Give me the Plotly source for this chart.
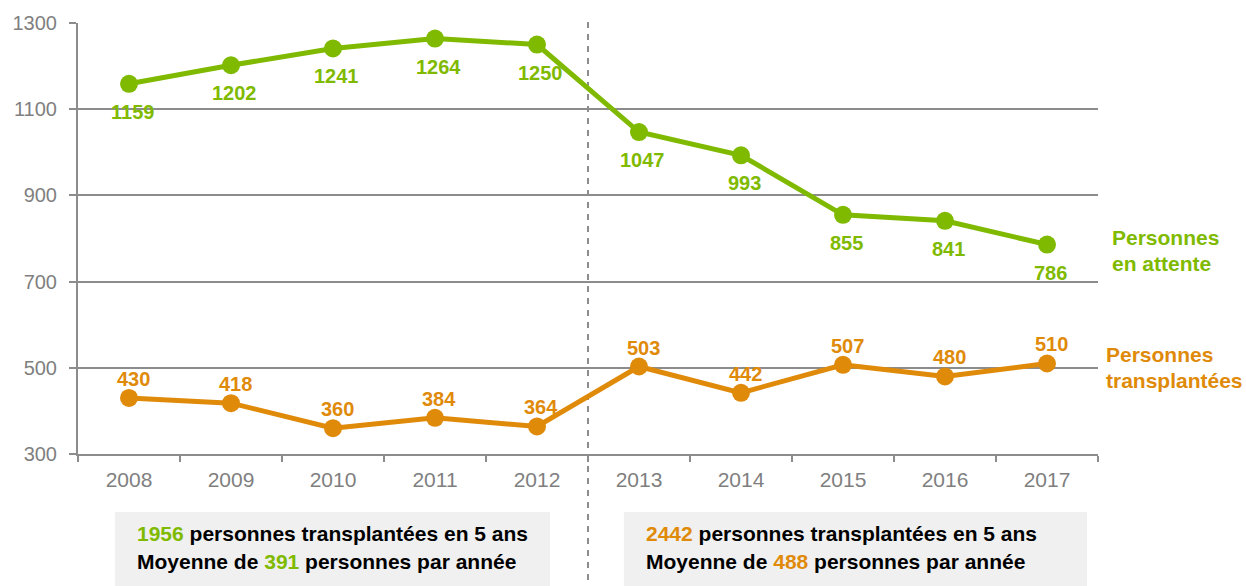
import plotly.graph_objects as go

years = ["2008", "2009", "2010", "2011", "2012", "2013", "2014", "2015", "2016", "2017"]
attente = [1159, 1202, 1241, 1264, 1250, 1047, 993, 855, 841, 786]
transplantees = [430, 418, 360, 384, 364, 503, 442, 507, 480, 510]
y_ticks = [300, 500, 700, 900, 1100, 1300]

GREEN = "#7fba00"
ORANGE = "#e08a0a"
GRAY = "#8c8c8c"
TXT_GRAY = "#7f7f7f"
FONT = "Liberation Sans, Arial, sans-serif"

fig = go.Figure()
fig.add_trace(go.Scatter(x=years, y=attente, mode="lines+markers",
                         line=dict(color=GREEN, width=5),
                         marker=dict(color=GREEN, size=18), hoverinfo="skip"))
fig.add_trace(go.Scatter(x=years, y=transplantees, mode="lines+markers",
                         line=dict(color=ORANGE, width=5),
                         marker=dict(color=ORANGE, size=18), hoverinfo="skip"))

ann = []
for i, v in enumerate(attente):
    ann.append(dict(xref="x", yref="y", x=i, y=v, text=str(v), showarrow=False, yshift=-28, xshift=3,
                    font=dict(family=FONT, size=20, color=GREEN, weight="bold")))
for i, v in enumerate(transplantees):
    ann.append(dict(xref="x", yref="y", x=i, y=v, text=str(v), showarrow=False, yshift=19, xshift=4,
                    font=dict(family=FONT, size=20, color=ORANGE, weight="bold")))

# series labels on the right
for i, t in enumerate(["Personnes", "en attente"]):
    ann.append(dict(xref="paper", yref="y", x=1.0117, y=attente[-1], text=t, showarrow=False,
                    xanchor="left", yshift=7 - 26 * i, align="left",
                    font=dict(family=FONT, size=21, color=GREEN, weight="bold")))
for i, t in enumerate(["Personnes", "transplantées"]):
    ann.append(dict(xref="paper", yref="y", x=1.0059, y=transplantees[-1], text=t, showarrow=False,
                    xanchor="left", yshift=9 - 26 * i, align="left",
                    font=dict(family=FONT, size=21, color=ORANGE, weight="bold")))

# summary boxes
first = transplantees[:5]
second = transplantees[5:]
boxes = [(first, 0.0558, GREEN), (second, 0.5548, ORANGE)]
for vals, xp, col in boxes:
    tot = sum(vals)
    moy = int(tot / len(vals))
    l1 = f"<span style='color:{col}'>{tot}</span> personnes transplantées en 5 ans"
    l2 = f"Moyenne de <span style='color:{col}'>{moy}</span> personnes par année"
    for j, t in enumerate([l1, l2]):
        ann.append(dict(xref="paper", yref="paper", x=xp, y=(454 - 533 - 28 * j) / 431,
                        text=t, showarrow=False, xanchor="left", yanchor="middle",
                        font=dict(family=FONT, size=21, color="#000000", weight="bold")))

shapes = [
    dict(type="rect", xref="paper", yref="paper", x0=0.0362, x1=0.4628, y0=-0.1346, y1=-0.32,
         fillcolor="#f0f0f0", line=dict(width=0), layer="below"),
    dict(type="rect", xref="paper", yref="paper", x0=0.5352, x1=0.9892, y0=-0.1346, y1=-0.32,
         fillcolor="#f0f0f0", line=dict(width=0), layer="below"),
    dict(type="line", xref="x", yref="paper", x0=4.5, x1=4.5, y0=-0.32, y1=1.012,
         line=dict(color=GRAY, width=2, dash="6px,6px"), layer="below"),
]

fig.update_layout(
    width=1246, height=586,
    margin=dict(l=76, r=148, t=23, b=132),
    paper_bgcolor="white", plot_bgcolor="white",
    showlegend=False,
    annotations=ann, shapes=shapes,
    font=dict(family=FONT),
    xaxis=dict(type="category", range=[-0.5, 9.5], showgrid=False, zeroline=False,
               showline=True, linecolor=GRAY, linewidth=2,
               ticks="outside", tickson="boundaries", ticklen=6, tickcolor=GRAY, tickwidth=2,
               ticklabelstandoff=6,
               tickfont=dict(family=FONT, size=21, color=TXT_GRAY)),
    yaxis=dict(range=[300, 1300], tickvals=y_ticks, showgrid=True, gridcolor=GRAY, gridwidth=2,
               zeroline=False, showline=True, linecolor=GRAY, linewidth=2,
               ticks="outside", ticklen=7, tickcolor=GRAY, tickwidth=2,
               ticklabelstandoff=8,
               tickfont=dict(family=FONT, size=20, color=TXT_GRAY)),
)

fig.write_html("out.html")
